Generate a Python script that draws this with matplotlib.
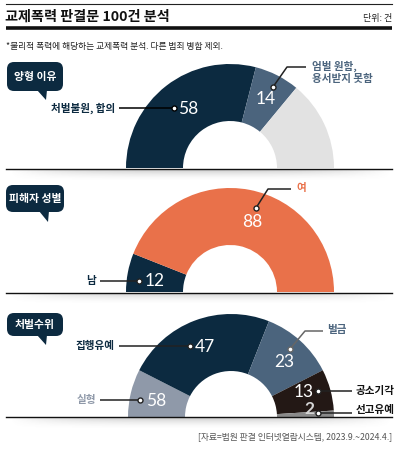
import matplotlib.pyplot as plt
import numpy as np
from matplotlib.patches import FancyBboxPatch, Polygon

plt.rcParams['font.family'] = ['Noto Sans CJK KR', 'DejaVu Sans']

# --- data -------------------------------------------------------------
title = '교제폭력 판결문 100건 분석'
unit = '단위: 건'
note = '*물리적 폭력에 해당하는 교제폭력 분석. 다른 범죄 병합 제외.'
source = '[자료=법원 판결 인터넷열람시스템, 2023.9.~2024.4.]'

reason_labels = ['처벌불원, 합의', '엄벌 원함,\n용서받지 못함', '기타']
reason_values = [58, 14, 28]

sex_labels = ['남', '여']
sex_values = [12, 88]

punish_labels = ['실형', '집행유예', '벌금', '공소기각', '선고유예']
punish_values = [15, 47, 23, 13, 2]
punish_shown = ['58', '47', '23', '13', '2']   # numbers as printed on the graphic

# --- style ------------------------------------------------------------
NAVY = '#0c2a40'
SLATE = '#4b647d'
LGREY = '#e2e2e2'
ORANGE = '#e9714a'
BLUEGREY = '#8f99a9'
BROWN = '#231815'
MGREY = '#8a8a8a'

W, H = 405, 449
fig = plt.figure(figsize=(W / 100, H / 100), dpi=100)
ax = fig.add_axes([0, 0, 1, 1])


def donut(values, colors, cx, cy, r, width):
    total = sum(values)
    # hidden lower half so the ring becomes a semicircle
    ax.pie(values + [total], colors=colors + ['none'], startangle=180,
           counterclock=True, radius=r, center=(cx, cy),
           wedgeprops=dict(width=width, edgecolor='none', linewidth=0))


def bubble(x0, y0, x1, y1, tip, text):
    ax.add_patch(FancyBboxPatch((x0, y0), x1 - x0, y1 - y0,
                                boxstyle='round,pad=0,rounding_size=7',
                                fc=NAVY, ec='none', zorder=5))
    ax.add_patch(Polygon([(tip[0] - 9, y1 - 1), (tip[0] + 1, y1 - 1), tip],
                         closed=True, fc=NAVY, ec='none', zorder=5))
    ax.text((x0 + x1) / 2, (y0 + y1) / 2 + 0.5, text, color='white',
            fontsize=7.8, fontweight='bold', ha='center', va='center', zorder=6)


def shadow(y):
    h = 12
    xs = np.linspace(-1, 1, 300)
    ys = np.linspace(0, 1, 30)
    horiz = np.clip(1 - np.abs(xs) ** 3, 0, 1)
    vert = (1 - ys) ** 2
    a = 0.28 * np.outer(vert, horiz)
    img = np.zeros((30, 300, 4))
    img[..., :3] = 0.35
    img[..., 3] = a
    ax.imshow(img, extent=(10, 392, y + h, y), zorder=1, aspect='auto',
              interpolation='bilinear')


def leader(points, color='black'):
    xs, ys = zip(*points)
    ax.plot(xs, ys, color=color, lw=1.1, zorder=7, solid_capstyle='butt')
    ax.plot(xs[0], ys[0], 'o', ms=3.6, mfc='white', mec=color, mew=1.0, zorder=8)


def number(x, y, s, ha='left', color='white', weight='normal'):
    ax.text(x, y, s, color=color, fontsize=12.5, family=['Lato', 'DejaVu Sans'],
            fontweight=weight, ha=ha, va='center', zorder=9)


def label(x, y, s, ha, color, va='center'):
    ax.text(x, y, s, color=color, fontsize=7.6, fontweight='bold', ha=ha, va=va,
            zorder=9, linespacing=1.15)


# --- header -----------------------------------------------------------
ax.plot([6, 392], [4, 4], color='#222222', lw=0.8)
ax.text(5, 17, title, fontsize=10.2, fontweight='bold', ha='left', va='center',
        color='#111111')
ax.text(392, 19, unit, fontsize=6.5, ha='right', va='center', color='#222222')
ax.plot([6, 392], [28, 28], color='#111111', lw=2.6, solid_capstyle='butt')
ax.text(6, 47, note, fontsize=6.3, ha='left', va='center', color='#222222')

# --- chart 1 : sentencing reasons ------------------------------------
donut(reason_values, [NAVY, SLATE, LGREY], 230, 168, 104, 57)
bubble(7, 62, 63, 91, (46, 100), '양형 이유')
leader([(174, 108), (119, 108)])
label(115, 108, reason_labels[0], 'right', NAVY)
number(178, 109, str(reason_values[0]))
leader([(273, 87), (287, 67), (306, 67)], color='#222222')
number(266, 99, str(reason_values[1]), ha='center')
label(312, 61, reason_labels[1], 'left', SLATE, va='top')

# --- chart 2 : victim sex --------------------------------------------
donut(sex_values, [NAVY, ORANGE], 230, 292, 104, 57)
bubble(6, 185, 64, 212, (48, 222), '피해자 성별')
leader([(256, 208), (268, 189), (291, 189)], color='#222222')
number(252, 222, str(sex_values[1]), ha='center')
label(296, 188, sex_labels[1], 'left', ORANGE)
leader([(139, 281), (100, 281)], color='#222222')
number(145, 281, str(sex_values[0]))
label(96, 281, sex_labels[0], 'right', NAVY)

# --- chart 3 : punishment --------------------------------------------
donut(punish_values, [BLUEGREY, NAVY, SLATE, BROWN, MGREY], 231, 417, 103, 57)
bubble(7, 313, 63, 336, (46, 345), '처벌수위')
leader([(140, 400), (100, 400)], color='#222222')
number(146, 401, punish_shown[0])
label(96, 400, punish_labels[0], 'right', BLUEGREY)
leader([(190, 346), (119, 346)], color='#222222')
number(195, 347, punish_shown[1])
label(115, 346, punish_labels[1], 'right', NAVY)
leader([(290, 349), (305, 331), (323, 331)], color='#666666')
number(284, 362, punish_shown[2], ha='center')
label(327, 330, punish_labels[2], 'left', SLATE)
leader([(318, 391), (352, 391)], color='#222222')
number(314, 392, punish_shown[3], ha='right')
label(356, 391, punish_labels[3], 'left', '#111111')
leader([(318, 413), (352, 413)], color='#222222')
number(314, 409, punish_shown[4], ha='right', color='#d4d4d4', weight='bold')
label(356, 410, punish_labels[4], 'left', '#111111')

# --- separators and source -------------------------------------------
for y in (169, 292.5, 417):
    shadow(y + 1)
    ax.plot([6, 392], [y, y], color='#111111', lw=1.0, zorder=4)
ax.text(392, 437, source, fontsize=6.3, ha='right', va='center', color='#555555')

ax.set_xlim(0, W)
ax.set_ylim(H, 0)
ax.set_aspect('equal')
ax.axis('off')
fig.savefig('out.png', dpi=100, facecolor='white')
